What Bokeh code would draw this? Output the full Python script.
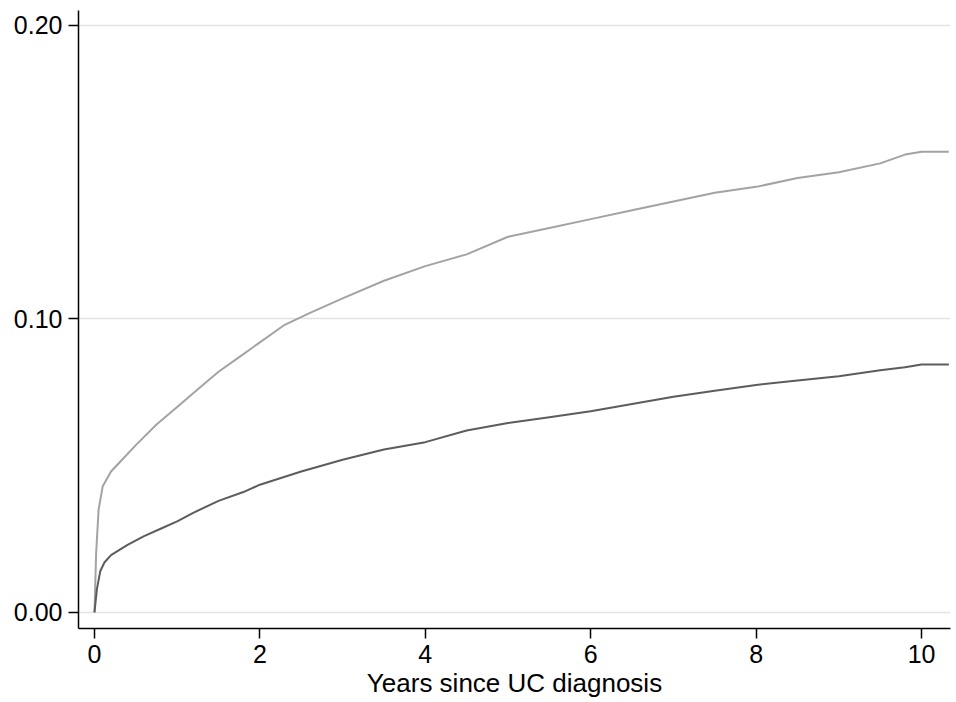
from bokeh.plotting import figure
from bokeh.models import FixedTicker, PrintfTickFormatter, Range1d
from bokeh.embed import file_html
from bokeh.resources import INLINE

# Cumulative incidence curves
years_light = [0, 0.02, 0.05, 0.1, 0.2, 0.3, 0.5, 0.75, 1.0, 1.25, 1.5, 1.75, 2.0, 2.3, 2.6,
               3.0, 3.5, 4.0, 4.5, 5.0, 5.5, 6.0, 6.5, 7.0, 7.5, 8.0, 8.5, 9.0, 9.5, 9.8, 10.0, 10.33]
inc_light = [0, 0.02, 0.035, 0.043, 0.048, 0.051, 0.057, 0.064, 0.070, 0.076, 0.082, 0.087, 0.092, 0.098, 0.102,
             0.107, 0.113, 0.118, 0.122, 0.128, 0.131, 0.134, 0.137, 0.140, 0.143, 0.145, 0.148, 0.150, 0.153, 0.156, 0.157, 0.157]

years_dark = [0, 0.03, 0.07, 0.12, 0.2, 0.4, 0.6, 0.8, 1.0, 1.2, 1.5, 1.8, 2.0, 2.5, 3.0, 3.5,
              4.0, 4.5, 5.0, 5.5, 6.0, 6.5, 7.0, 7.5, 8.0, 8.5, 9.0, 9.5, 9.8, 10.0, 10.33]
inc_dark = [0, 0.008, 0.014, 0.017, 0.0195, 0.023, 0.026, 0.0285, 0.031, 0.034, 0.038, 0.041, 0.0435, 0.048, 0.052, 0.0555,
            0.058, 0.062, 0.0645, 0.0665, 0.0685, 0.071, 0.0735, 0.0755, 0.0775, 0.079, 0.0805, 0.0825, 0.0835, 0.0845, 0.0845]

x_ticks = [0, 2, 4, 6, 8, 10]
y_ticks = [0.0, 0.1, 0.2]
x_label = "Years since UC diagnosis"

FONT = "Liberation Sans"

p = figure(width=952, height=700, output_backend="svg", toolbar_location=None,
           x_range=Range1d(-0.193, 10.35), y_range=Range1d(-0.0055, 0.2051),
           min_border_left=78, min_border_top=10, min_border_right=2, min_border_bottom=60)

p.outline_line_color = None
p.background_fill_color = "white"
p.border_fill_color = "white"

p.xgrid.grid_line_color = None
p.ygrid.grid_line_color = "#e3e3e3"
p.ygrid.grid_line_width = 1.5

p.xaxis.ticker = FixedTicker(ticks=x_ticks)
p.yaxis.ticker = FixedTicker(ticks=y_ticks)
p.yaxis.formatter = PrintfTickFormatter(format="%.2f")
p.xaxis.axis_label = x_label

for ax in (p.xaxis, p.yaxis):
    ax.axis_line_color = "black"
    ax.axis_line_width = 1.5
    ax.major_tick_line_color = "black"
    ax.major_tick_line_width = 1.5
    ax.major_tick_out = 10
    ax.major_tick_in = 0
    ax.minor_tick_line_color = None
    ax.major_label_text_font = FONT
    ax.major_label_text_font_size = "25px"
    ax.major_label_text_color = "black"
    ax.major_label_standoff = 6
    ax.axis_label_text_font = FONT
    ax.axis_label_text_font_size = "26px"
    ax.axis_label_text_font_style = "normal"
    ax.axis_label_text_color = "black"
    ax.axis_label_standoff = 2

p.line(years_light, inc_light, line_color="#a3a3a3", line_width=2)
p.line(years_dark, inc_dark, line_color="#5c5c5c", line_width=2)

open("out.html", "w").write(file_html(p, INLINE))
